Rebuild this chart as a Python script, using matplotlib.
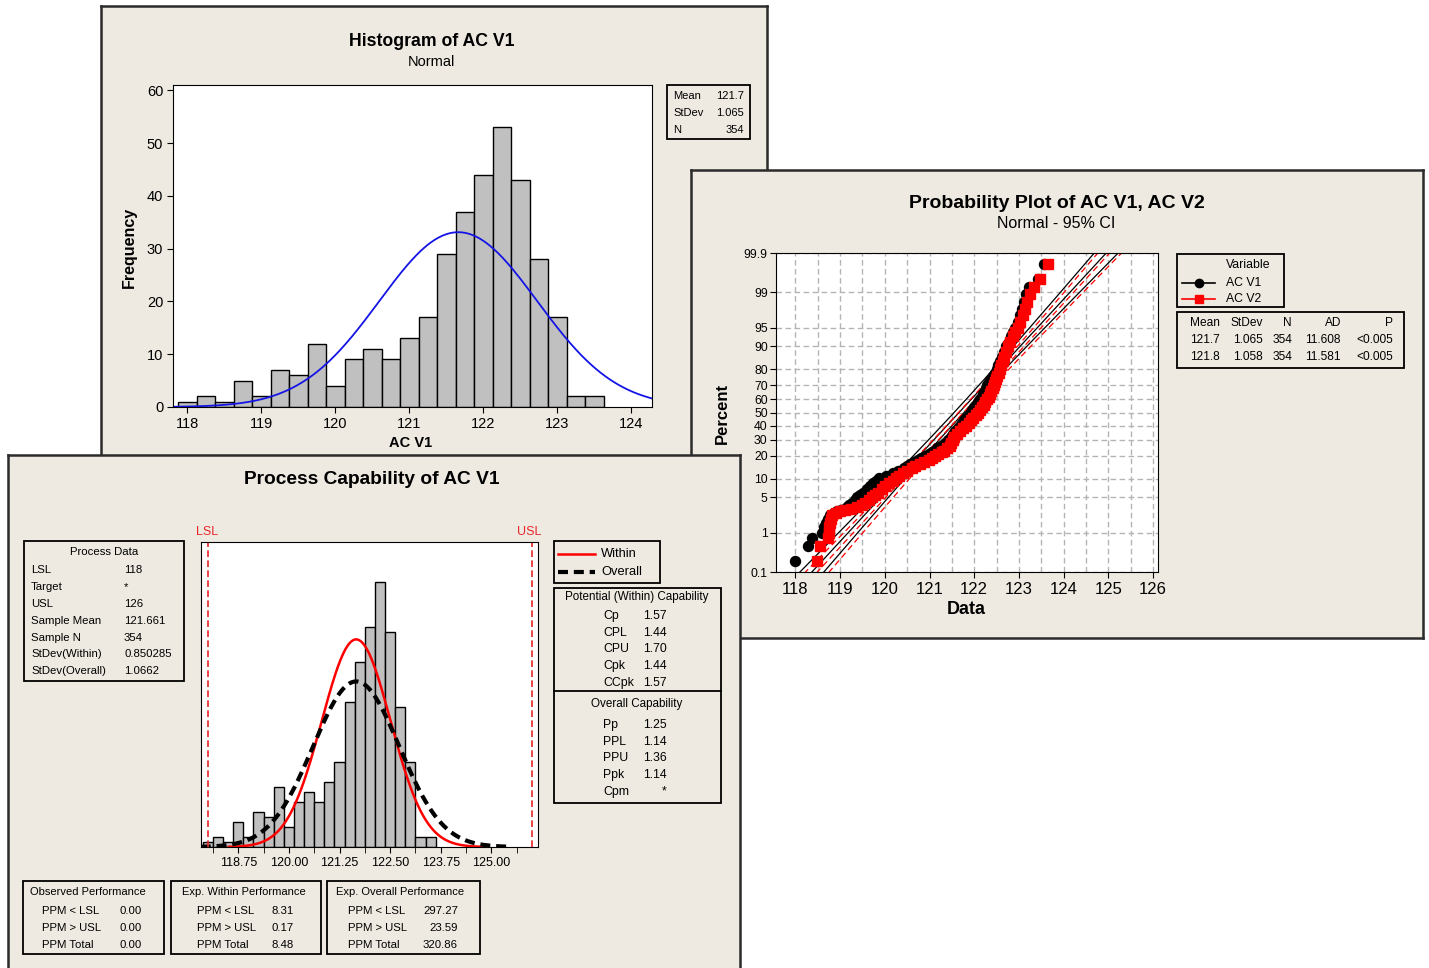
import math
import numpy as np
import matplotlib
matplotlib.use('Agg')
import matplotlib.pyplot as plt
from matplotlib.patches import Rectangle

plt.rcParams['font.family'] = ['Liberation Sans', 'DejaVu Sans']

W, H = 1429, 968
BG = '#EEEAE1'

# ---------------- data ----------------
# histogram of AC V1 (bins 0.25 wide, centred on 118.00 ... 123.50)
bin_centers = [118.00, 118.25, 118.50, 118.75, 119.00, 119.25, 119.50, 119.75,
               120.00, 120.25, 120.50, 120.75, 121.00, 121.25, 121.50, 121.75,
               122.00, 122.25, 122.50, 122.75, 123.00, 123.25, 123.50]
counts = [1, 2, 1, 5, 2, 7, 6, 12, 4, 9, 11, 9, 13, 17, 29, 37, 44, 53, 43, 28, 17, 2, 2]
bin_width = 0.25

sample_mean = 121.661
sd_within = 0.850285
sd_overall = 1.0662
sample_n = 354
lsl, usl = 118, 126

# probability plot: percent levels and the data values at them
pct_levels = [0.2, 0.48, 0.76, 1.0, 1.3, 1.6, 2.0, 2.3, 2.6, 2.8,
              3.0, 3.1, 3.3, 3.6, 4.0, 4.5, 5.0, 5.5, 6.0, 6.8,
              7.6, 8.5, 9.3, 10.2, 11, 12, 13, 14, 15, 16,
              17, 18, 19, 20, 21, 22, 23, 24.5, 26, 28,
              30, 32, 34, 36, 38, 40, 42, 44, 46, 48,
              50, 52, 54, 56, 58, 60, 62, 64, 66, 68,
              70, 72, 74, 76, 78, 80, 82, 84, 86, 88,
              90, 91.5, 93, 94, 95, 96, 97, 97.8, 98.4, 98.9,
              99.24, 99.52, 99.80]
v1_values = [118.00, 118.28, 118.37, 118.60, 118.65, 118.69, 118.73, 118.78, 118.86, 118.93,
             119.03, 119.10, 119.16, 119.21, 119.27, 119.33, 119.38, 119.44, 119.51, 119.60,
             119.68, 119.74, 119.80, 119.88, 120.02, 120.18, 120.30, 120.42, 120.50, 120.57,
             120.65, 120.74, 120.82, 120.90, 120.98, 121.05, 121.11, 121.17, 121.25, 121.35,
             121.42, 121.47, 121.52, 121.58, 121.64, 121.69, 121.73, 121.77, 121.82, 121.88,
             121.92, 121.96, 122.00, 122.04, 122.08, 122.13, 122.17, 122.20, 122.23, 122.26,
             122.29, 122.33, 122.37, 122.42, 122.46, 122.50, 122.54, 122.58, 122.62, 122.67,
             122.72, 122.77, 122.83, 122.87, 122.92, 122.97, 123.02, 123.07, 123.11, 123.15,
             123.22, 123.42, 123.55]
v2_values = [118.48, 118.56, 118.74, 118.75, 118.76, 118.78, 118.80, 118.83, 118.90, 119.00,
             119.12, 119.25, 119.38, 119.48, 119.56, 119.64, 119.72, 119.79, 119.85, 119.94,
             120.01, 120.10, 120.18, 120.24, 120.32, 120.41, 120.50, 120.60, 120.68, 120.78,
             120.88, 120.98, 121.06, 121.13, 121.20, 121.27, 121.33, 121.40, 121.45, 121.49,
             121.52, 121.55, 121.61, 121.68, 121.75, 121.82, 121.88, 121.93, 121.98, 122.03,
             122.08, 122.13, 122.17, 122.21, 122.25, 122.29, 122.32, 122.35, 122.38, 122.41,
             122.44, 122.47, 122.49, 122.52, 122.55, 122.58, 122.61, 122.64, 122.67, 122.71,
             122.76, 122.80, 122.87, 122.92, 122.97, 123.03, 123.09, 123.14, 123.19, 123.24,
             123.33, 123.48, 123.65]
fit_v1 = (121.661, 1.065)
fit_v2 = (121.76, 1.058)
prob_ticks = [0.1, 1, 5, 10, 20, 30, 40, 50, 60, 70, 80, 90, 95, 99, 99.9]
prob_tick_labels = ['0.1', '1', '5', '10', '20', '30', '40', '50', '60', '70',
                    '80', '90', '95', '99', '99.9']
prob_table = [['121.7', '1.065', '354', '11.608', '<0.005'],
              ['121.8', '1.058', '354', '11.581', '<0.005']]

proc_labels = ['LSL', 'Target', 'USL', 'Sample Mean', 'Sample N',
               'StDev(Within)', 'StDev(Overall)']
proc_values = ['118', '*', '126', '121.661', '354', '0.850285', '1.0662']
within_labels = ['Cp', 'CPL', 'CPU', 'Cpk', 'CCpk']
within_values = ['1.57', '1.44', '1.70', '1.44', '1.57']
overall_labels = ['Pp', 'PPL', 'PPU', 'Ppk', 'Cpm']
overall_values = ['1.25', '1.14', '1.36', '1.14', '*']
ppm_labels = ['PPM < LSL', 'PPM > USL', 'PPM Total']
observed_ppm = ['0.00', '0.00', '0.00']
exp_within_ppm = ['8.31', '0.17', '8.48']
exp_overall_ppm = ['297.27', '23.59', '320.86']


def norm_pdf(x, mu, sd):
    return np.exp(-0.5 * ((x - mu) / sd) ** 2) / (sd * math.sqrt(2 * math.pi))


def norm_ppf(p):
    lo, hi = -10.0, 10.0
    for _ in range(80):
        mid = 0.5 * (lo + hi)
        if 0.5 * (1 + math.erf(mid / math.sqrt(2))) < p:
            lo = mid
        else:
            hi = mid
    return 0.5 * (lo + hi)


fig = plt.figure(figsize=(W / 100, H / 100), dpi=100, facecolor='white')


def rect(x0, y0, x1, y1):
    return [x0 / W, 1 - y1 / H, (x1 - x0) / W, (y1 - y0) / H]


def panel(x0, y0, x1, y1, z):
    pax = fig.add_axes(rect(x0, y0, x1, y1), zorder=z)
    pax.set_facecolor(BG)
    pax.set_xlim(x0, x1)
    pax.set_ylim(y1, y0)
    pax.set_xticks([])
    pax.set_yticks([])
    for sp in pax.spines.values():
        sp.set_color('#2b2b2b')
        sp.set_linewidth(1.8)
    return pax


def box(pax, x0, y0, x1, y1):
    pax.add_patch(Rectangle((x0, y0), x1 - x0, y1 - y0, fill=False,
                            ec='black', lw=1.3, clip_on=False))


def txt(pax, x, y, s, size=8, ha='left', **kw):
    pax.text(x, y, s, fontsize=size, ha=ha, va='center', clip_on=False, **kw)


# ================= panel 1 : histogram =================
p1 = panel(101, 6, 767, 480, 1)
txt(p1, 432, 41, 'Histogram of AC V1', 12.7, 'center', weight='bold')
txt(p1, 431, 62, 'Normal', 10.5, 'center')
txt(p1, 129, 247, 'Frequency', 11.5, 'center', weight='bold', rotation=90)
txt(p1, 411, 443, 'AC V1', 10.5, 'center', weight='bold')
box(p1, 667, 85, 750, 139)
for i, (k, v) in enumerate([('Mean', '121.7'), ('StDev', '1.065'), ('N', '354')]):
    txt(p1, 673, 96 + 17 * i, k, 8)
    txt(p1, 744, 96 + 17 * i, v, 8, 'right')

h1 = fig.add_axes(rect(173, 85, 652, 407), zorder=1.1)
h1.bar(bin_centers, counts, width=bin_width, color='#C0C0C0', edgecolor='black', linewidth=1.0)
xs = np.linspace(117.805, 124.28, 400)
h1.plot(xs, sample_n * bin_width * norm_pdf(xs, sample_mean, sd_overall), color='#1414E6', lw=1.3)
h1.set_xlim(117.805, 124.28)
h1.set_ylim(0, 61)
h1.set_xticks(range(118, 125))
h1.set_yticks(range(0, 61, 10))
h1.tick_params(direction='out', length=4, labelsize=10.5, pad=3)

# ================= panel 2 : probability plot =================
p2 = panel(691, 170, 1423, 638, 2)
txt(p2, 1057, 203, 'Probability Plot of AC V1, AC V2', 14, 'center', weight='bold')
txt(p2, 1056, 224, 'Normal - 95% CI', 11.5, 'center')
txt(p2, 722, 413, 'Percent', 12, 'center', weight='bold', rotation=90)
txt(p2, 966, 609, 'Data', 13, 'center', weight='bold')

box(p2, 1177, 254, 1284, 307)
txt(p2, 1248, 265, 'Variable', 8.8, 'center')
p2.plot([1182, 1215], [282.5, 282.5], color='black', lw=1.2, clip_on=False)
p2.plot([1199], [282.5], 'o', color='black', ms=6, clip_on=False)
p2.plot([1182, 1215], [299, 299], color='#FF0000', lw=1.2, clip_on=False)
p2.plot([1199], [299], 's', color='#FF0000', ms=6, clip_on=False)
txt(p2, 1226, 282.5, 'AC V1', 8.8)
txt(p2, 1226, 299, 'AC V2', 8.8)

box(p2, 1177, 312, 1404, 368)
col_right = [1220, 1263, 1292, 1341, 1393]
for hd, xr in zip(['Mean', 'StDev', 'N', 'AD', 'P'], col_right):
    txt(p2, xr, 323, hd, 8.6, 'right')
for r, row in enumerate(prob_table):
    for val, xr in zip(row, col_right):
        txt(p2, xr, 340 + 17 * r, val, 8.6, 'right')

pp = fig.add_axes(rect(776, 253, 1158, 572), zorder=2.1)
zlim = norm_ppf(0.001)
pp.set_xlim(117.567, 126.11)
pp.set_ylim(zlim, -zlim)
pp.set_xticks(range(118, 127))
pp.set_xticks(np.arange(118.5, 126, 1.0), minor=True)
pp.set_yticks([norm_ppf(p / 100) for p in prob_ticks])
pp.set_yticklabels(prob_tick_labels)
pp.tick_params(axis='x', direction='out', length=4, labelsize=12, pad=3)
pp.tick_params(axis='y', direction='out', length=4, labelsize=8.8, pad=2)
pp.tick_params(which='minor', length=0)
pp.grid(True, which='both', color='#B4B4B4', lw=1.0, ls=(0, (4, 2.5)))
pp.set_axisbelow(True)

zz = np.linspace(-3.4, 3.4, 200)
for (mu, sd), col, ls in [(fit_v1, 'black', '-'), (fit_v2, '#FF0000', (0, (5, 3)))]:
    half = 1.96 * sd * np.sqrt(1 / sample_n + zz ** 2 / (2 * sample_n))
    for off in (-half, 0, half):
        pp.plot(mu + zz * sd + off, zz, color=col, lw=0.9, ls=ls, zorder=2)

z_levels = [norm_ppf(p / 100) for p in pct_levels]
pp.plot(v1_values, z_levels, 'o', color='black', ms=7.2, zorder=3)
pp.plot(v2_values, z_levels, 's', color='#FF0000', ms=6.8, zorder=4)

# ================= panel 3 : process capability =================
p3 = panel(8, 455, 740, 985, 3)
txt(p3, 372, 480, 'Process Capability of AC V1', 13.8, 'center', weight='bold')
txt(p3, 207, 532, 'LSL', 9, 'center', color='#E8262A')
txt(p3, 529, 532, 'USL', 9, 'center', color='#E8262A')

box(p3, 24, 541, 184, 681)
txt(p3, 104, 552.5, 'Process Data', 8.2, 'center')
for i, (k, v) in enumerate(zip(proc_labels, proc_values)):
    txt(p3, 31, 570.5 + 16.8 * i, k, 8.2)
    txt(p3, 124, 570.5 + 16.8 * i, v, 8.2)

box(p3, 554, 541, 660, 583)
p3.plot([558, 595], [554, 554], color='#FF0000', lw=1.8, clip_on=False)
p3.plot([558, 595], [572, 572], color='black', lw=3, ls=(0, (2.4, 1.4)), clip_on=False)
txt(p3, 601, 554, 'Within', 9.3)
txt(p3, 601, 572, 'Overall', 9.3)

box(p3, 554, 588, 721, 803)
p3.plot([554, 721], [691, 691], color='black', lw=1.3, clip_on=False)
txt(p3, 637, 597.5, 'Potential (Within) Capability', 8.4, 'center')
for i, (k, v) in enumerate(zip(within_labels, within_values)):
    txt(p3, 603, 616 + 16.7 * i, k, 8.8)
    txt(p3, 643, 616 + 16.7 * i, v, 8.8)
txt(p3, 637, 704, 'Overall Capability', 8.4, 'center')
for i, (k, v) in enumerate(zip(overall_labels, overall_values)):
    txt(p3, 603, 725 + 16.7 * i, k, 8.8)
    txt(p3, 643 if v != '*' else 664, 725 + 16.7 * i, v, 8.8, 'left' if v != '*' else 'center')

perf = [(23, 164, 'Observed Performance', 30, 42, 119, 'left', observed_ppm),
        (171, 321, 'Exp. Within Performance', 182, 197, 271, 'left', exp_within_ppm),
        (327, 480, 'Exp. Overall Performance', 336, 348, 458, 'right', exp_overall_ppm)]
for x0, x1, title, tx, lx, vx, vha, vals in perf:
    box(p3, x0, 881, x1, 954)
    txt(p3, tx, 892, title, 8)
    for i, (k, v) in enumerate(zip(ppm_labels, vals)):
        txt(p3, lx, 911 + 17 * i, k, 8.2)
        txt(p3, vx, 911 + 17 * i, v, 8.2, vha)

c3 = fig.add_axes(rect(201, 542, 538, 847), zorder=3.1)
c3.bar(bin_centers, counts, width=bin_width, color='#C0C0C0', edgecolor='black', linewidth=1.0)
xw = np.linspace(sample_mean - 3.7 * sd_within, sample_mean + 3.7 * sd_within, 300)
xo = np.linspace(sample_mean - 3.6 * sd_overall, sample_mean + 3.6 * sd_overall, 300)
c3.plot(xw, sample_n * bin_width * norm_pdf(xw, sample_mean, sd_within), color='#FF0000', lw=1.8)
c3.plot(xo, sample_n * bin_width * norm_pdf(xo, sample_mean, sd_overall), color='black', lw=3,
        ls=(0, (2.4, 1.4)))
for lim in (lsl, usl):
    c3.axvline(lim, color='#E8262A', lw=1.2, ls=(0, (4, 2)))
c3.set_xlim(117.829, 126.151)
c3.set_ylim(0, 61)
c3.set_yticks([])
c3.set_xticks([118.75, 120.00, 121.25, 122.50, 123.75, 125.00])
c3.set_xticklabels(['118.75', '120.00', '121.25', '122.50', '123.75', '125.00'])
c3.set_xticks(np.arange(118.125, 126.0, 1.25), minor=True)
c3.tick_params(axis='x', which='both', direction='out', length=4, labelsize=9, pad=3)

fig.savefig('out.png', dpi=100, facecolor='white')
